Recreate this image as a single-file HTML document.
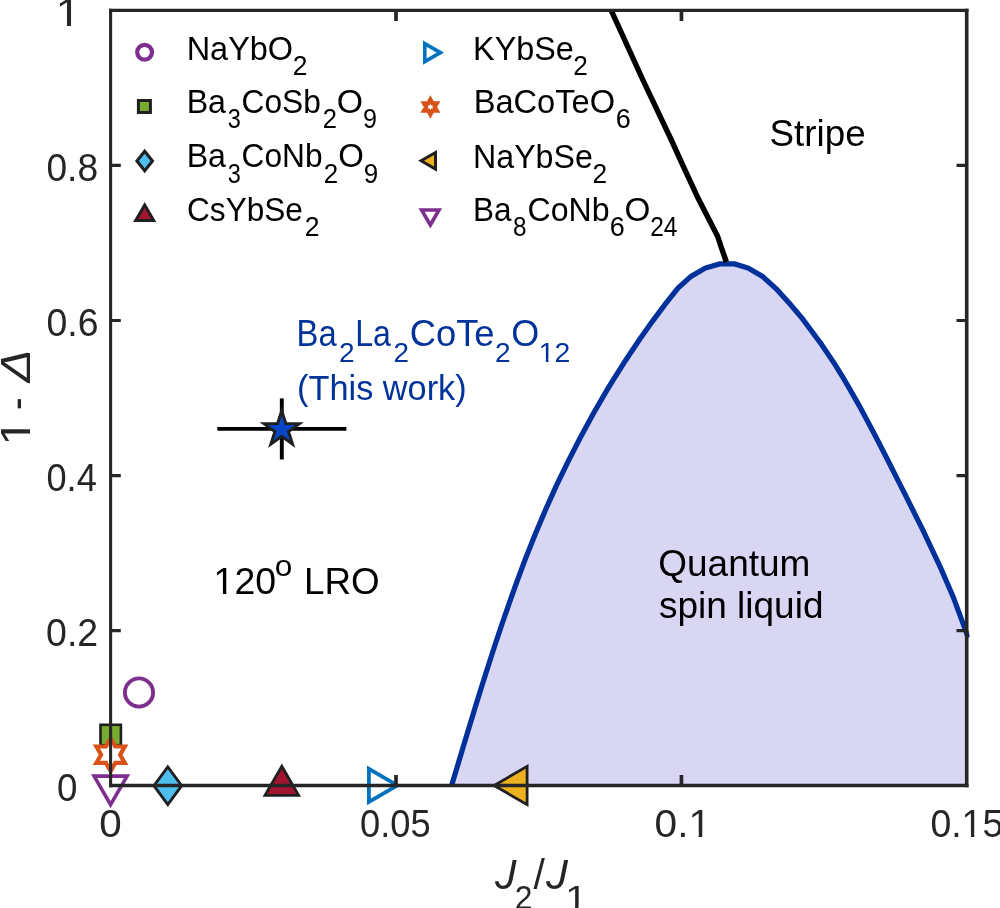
<!DOCTYPE html>
<html lang="en"><head><meta charset="utf-8"><title>Phase diagram</title>
<style>
html,body{margin:0;padding:0;background:#fff}
svg{display:block}
text{font-family:"Liberation Sans",Arial,Helvetica,sans-serif;white-space:pre}
</style></head><body>
<svg width="1000" height="908" viewBox="0 0 1000 908">
<defs><clipPath id="axclip"><rect x="110.6" y="10.4" width="858.9" height="775.1"/></clipPath></defs>
<rect width="1000" height="908" fill="#fff"/>
<g clip-path="url(#axclip)">
<polygon points="451.6,785.5 461.0,754.3 467.6,732.3 474.4,710.1 481.2,688.1 488.2,666.0 495.3,644.0 502.7,622.0 510.3,600.1 516.1,583.8 525.1,559.7 534.7,535.5 544.9,511.2 555.8,486.9 567.4,462.8 579.7,438.7 593.1,414.0 607.4,389.4 612.3,381.3 626.0,359.7 639.7,339.3 652.6,321.1 665.6,303.7 678.0,288.1 691.0,276.4 705.3,268.1 719.6,263.9 734.7,263.9 748.2,268.1 762.5,276.4 776.8,289.4 789.8,303.7 802.2,318.4 821.4,344.2 834.6,363.9 842.3,376.4 846.9,384.1 859.2,405.6 874.5,434.3 887.7,460.0 897.7,479.8 905.7,495.7 923.0,530.4 941.0,568.6 953.3,597.2 966.1,631.8 966.7,633.7 966.7,785.5" fill="#D9D6F3"/>
<polyline points="451.6,785.5 461.0,754.3 467.6,732.3 474.4,710.1 481.2,688.1 488.2,666.0 495.3,644.0 502.7,622.0 510.3,600.1 516.1,583.8 525.1,559.7 534.7,535.5 544.9,511.2 555.8,486.9 567.4,462.8 579.7,438.7 593.1,414.0 607.4,389.4 612.3,381.3 626.0,359.7 639.7,339.3 652.6,321.1 665.6,303.7 678.0,288.1 691.0,276.4 705.3,268.1 719.6,263.9 734.7,263.9 748.2,268.1 762.5,276.4 776.8,289.4 789.8,303.7 802.2,318.4 821.4,344.2 834.6,363.9 842.3,376.4 846.9,384.1 859.2,405.6 874.5,434.3 887.7,460.0 897.7,479.8 905.7,495.7 923.0,530.4 941.0,568.6 953.3,597.2 966.1,631.8 968.0,637.8" fill="none" stroke="#00309A" stroke-width="5.2" stroke-linejoin="miter"/>
<polyline points="611.2,10.4 642.9,80.0 671.1,139.5 683.2,166.1 698.5,199.1 717.7,236.5 721.2,247.1 726.4,262.0" fill="none" stroke="#000" stroke-width="5.4" stroke-linejoin="round"/>
</g>
<circle cx="139.0" cy="692.5" r="14.1" fill="none" stroke="#7E2F8E" stroke-width="3.9"/>
<rect x="100.5" y="724.8" width="20.4" height="20.4" fill="#77AC30" stroke="#1f1f1f" stroke-width="2.6"/>
<polygon points="110.6,738.3 115.3,746.5 124.8,746.5 120.1,754.7 124.8,762.9 115.3,762.9 110.6,771.1 105.9,762.9 96.4,762.9 101.1,754.7 96.4,746.5 105.9,746.5" fill="#fff" stroke="#D95319" stroke-width="4.2"/>
<polygon points="110.6,804.6 127.1,776.1 94.1,776.1" fill="none" stroke="#7E2F8E" stroke-width="3.6"/>
<polygon points="167.8,766.8 181.7,785.7 167.8,804.6 153.9,785.7" fill="#4DBEEE" stroke="#1f1f1f" stroke-width="2.8"/>
<polygon points="281.8,766.2 298.6,795.3 265.0,795.3" fill="#A2142F" stroke="#1f1f1f" stroke-width="2.8"/>
<polygon points="397.4,785.4 368.9,801.9 368.9,768.9" fill="none" stroke="#0072BD" stroke-width="3.8"/>
<polygon points="494.1,785.5 527.1,804.6 527.1,766.4" fill="#EDB120" stroke="#1f1f1f" stroke-width="2.8"/>
<line x1="217.3" x2="346.4" y1="428.9" y2="428.9" stroke="#000" stroke-width="3.9"/>
<line x1="281.8" x2="281.8" y1="398.4" y2="459.5" stroke="#000" stroke-width="3.9"/>
<polygon points="281.7,410.7 285.9,423.6 299.4,423.6 288.5,431.5 292.6,444.3 281.7,436.4 270.8,444.3 274.9,431.5 264.0,423.6 277.5,423.6" fill="#0846C8" stroke="#1f1f1f" stroke-width="2.9"/>
<circle cx="144.6" cy="52.3" r="7.4" fill="none" stroke="#7E2F8E" stroke-width="4.2"/>
<rect x="138.4" y="100.5" width="12" height="12" fill="#77AC30" stroke="#1f1f1f" stroke-width="3"/>
<polygon points="144.7,151.2 152.5,161.0 144.7,170.8 136.9,161.0" fill="#4DBEEE" stroke="#1f1f1f" stroke-width="3"/>
<polygon points="144.7,205.0 153.7,220.6 135.7,220.6" fill="#A2142F" stroke="#1f1f1f" stroke-width="3"/>
<polygon points="440.4,52.6 424.8,61.6 424.8,43.6" fill="none" stroke="#0072BD" stroke-width="3.6"/>
<polygon points="430.4,99.6 432.5,103.3 436.8,103.3 434.7,107.0 436.8,110.7 432.5,110.7 430.4,114.4 428.3,110.7 424.0,110.7 426.1,107.0 424.0,103.3 428.3,103.3" fill="#fff" stroke="#D95319" stroke-width="4.2"/>
<polygon points="421.1,160.8 435.5,169.1 435.5,152.5" fill="#EDB120" stroke="#1f1f1f" stroke-width="3"/>
<polygon points="430.3,225.0 439.0,210.0 421.6,210.0" fill="none" stroke="#7E2F8E" stroke-width="3.6"/>
<g stroke="#262626" stroke-linecap="butt"><line x1="109.05" x2="968.50" y1="10.4" y2="10.4" stroke-width="3.1"/><line x1="109.05" x2="968.50" y1="785.5" y2="785.5" stroke-width="3.5"/><line x1="110.6" x2="110.6" y1="8.85" y2="787.25" stroke-width="3.1"/><line x1="966.7" x2="966.7" y1="8.85" y2="787.25" stroke-width="3.6"/></g>
<path d="M110.6,165.4h10.2M966.7,165.4h-10.2M110.6,320.5h10.2M966.7,320.5h-10.2M110.6,475.6h10.2M966.7,475.6h-10.2M110.6,630.7h10.2M966.7,630.7h-10.2" fill="none" stroke="#262626" stroke-width="3.2"/>
<path d="M396.00,785.5v-10.5M396.00,10.4v10.5M681.45,785.5v-10.5M681.45,10.4v10.5" fill="none" stroke="#262626" stroke-width="3.7"/>
<g id="labels">
<text fill="#262626"><tspan x="55.45" y="25.60" font-size="38.6" textLength="25.44" lengthAdjust="spacingAndGlyphs">1</tspan></text>
<text fill="#262626"><tspan x="46.50" y="180.90" font-size="38.6" textLength="51.52" lengthAdjust="spacingAndGlyphs">0.8</tspan></text>
<text fill="#262626"><tspan x="46.45" y="335.70" font-size="38.6" textLength="52.04" lengthAdjust="spacingAndGlyphs">0.6</tspan></text>
<text fill="#262626"><tspan x="46.45" y="490.70" font-size="38.6" textLength="50.33" lengthAdjust="spacingAndGlyphs">0.4</tspan></text>
<text fill="#262626"><tspan x="46.05" y="645.90" font-size="38.6" textLength="52.14" lengthAdjust="spacingAndGlyphs">0.2</tspan></text>
<text fill="#262626"><tspan x="56.90" y="800.70" font-size="38.6" textLength="20.42" lengthAdjust="spacingAndGlyphs">0</tspan></text>
<text fill="#262626"><tspan x="99.20" y="836.50" font-size="38.6" textLength="22.47" lengthAdjust="spacingAndGlyphs">0</tspan></text>
<text fill="#262626"><tspan x="359.95" y="836.50" font-size="38.6" textLength="70.70" lengthAdjust="spacingAndGlyphs">0.05</tspan></text>
<text fill="#262626"><tspan x="654.60" y="836.50" font-size="38.6" textLength="56.46" lengthAdjust="spacingAndGlyphs">0.1</tspan></text>
<text fill="#262626"><tspan x="930.41" y="836.50" font-size="38.6" textLength="72.82" lengthAdjust="spacingAndGlyphs">0.15</tspan></text>
<text fill="#262626"><tspan x="495.00" y="889.00" font-size="42.5" font-style="italic" textLength="21.30" lengthAdjust="spacingAndGlyphs">J</tspan><tspan x="514.70" y="909.20" font-size="34" textLength="17.76" lengthAdjust="spacingAndGlyphs">2</tspan><tspan x="533.60" y="889.00" font-size="42.5" textLength="11.36" lengthAdjust="spacingAndGlyphs">/</tspan><tspan x="546.00" y="889.00" font-size="42.5" font-style="italic" textLength="21.84" lengthAdjust="spacingAndGlyphs">J</tspan><tspan x="565.15" y="909.20" font-size="34" textLength="21.91" lengthAdjust="spacingAndGlyphs">1</tspan></text>
<text fill="#262626" transform="rotate(-90)"><tspan x="-445.80" y="30.00" font-size="42.5" textLength="26.99" lengthAdjust="spacingAndGlyphs">1</tspan><tspan x="-420.45" y="31.10" font-size="42.5" textLength="33.48" lengthAdjust="spacingAndGlyphs"> - </tspan><tspan x="-382.55" y="30.00" font-size="42.5" font-style="italic" textLength="33.30" lengthAdjust="spacingAndGlyphs">Δ</tspan></text>
<text fill="#000"><tspan x="186.70" y="59.90" font-size="33.0" textLength="106.40" lengthAdjust="spacingAndGlyphs">NaYbO</tspan><tspan x="292.85" y="75.20" font-size="27" textLength="14.72" lengthAdjust="spacingAndGlyphs">2</tspan></text>
<text fill="#000"><tspan x="186.70" y="113.10" font-size="33.0" textLength="39.31" lengthAdjust="spacingAndGlyphs">Ba</tspan><tspan x="227.85" y="128.40" font-size="27" textLength="13.09" lengthAdjust="spacingAndGlyphs">3</tspan><tspan x="241.60" y="113.10" font-size="33.0" textLength="79.29" lengthAdjust="spacingAndGlyphs">CoSb</tspan><tspan x="322.70" y="128.40" font-size="27" textLength="14.23" lengthAdjust="spacingAndGlyphs">2</tspan><tspan x="336.70" y="113.10" font-size="33.0" textLength="26.24" lengthAdjust="spacingAndGlyphs">O</tspan><tspan x="363.10" y="128.40" font-size="27" textLength="14.01" lengthAdjust="spacingAndGlyphs">9</tspan></text>
<text fill="#000"><tspan x="186.70" y="167.20" font-size="33.0" textLength="39.31" lengthAdjust="spacingAndGlyphs">Ba</tspan><tspan x="227.85" y="182.50" font-size="27" textLength="13.09" lengthAdjust="spacingAndGlyphs">3</tspan><tspan x="241.60" y="167.20" font-size="33.0" textLength="80.96" lengthAdjust="spacingAndGlyphs">CoNb</tspan><tspan x="323.75" y="182.50" font-size="27" textLength="14.44" lengthAdjust="spacingAndGlyphs">2</tspan><tspan x="338.15" y="167.20" font-size="33.0" textLength="25.62" lengthAdjust="spacingAndGlyphs">O</tspan><tspan x="363.75" y="182.50" font-size="27" textLength="14.49" lengthAdjust="spacingAndGlyphs">9</tspan></text>
<text fill="#000"><tspan x="187.05" y="221.00" font-size="33.0" textLength="115.88" lengthAdjust="spacingAndGlyphs">CsYbSe</tspan><tspan x="304.85" y="236.30" font-size="27" textLength="14.79" lengthAdjust="spacingAndGlyphs">2</tspan></text>
<text fill="#000"><tspan x="473.05" y="59.90" font-size="33.0" textLength="100.77" lengthAdjust="spacingAndGlyphs">KYbSe</tspan><tspan x="573.35" y="75.20" font-size="27" textLength="14.60" lengthAdjust="spacingAndGlyphs">2</tspan></text>
<text fill="#000"><tspan x="473.65" y="113.10" font-size="33.0" textLength="141.43" lengthAdjust="spacingAndGlyphs">BaCoTeO</tspan><tspan x="615.85" y="128.40" font-size="27" textLength="15.03" lengthAdjust="spacingAndGlyphs">6</tspan></text>
<text fill="#000"><tspan x="473.05" y="167.50" font-size="33.0" textLength="119.77" lengthAdjust="spacingAndGlyphs">NaYbSe</tspan><tspan x="592.45" y="182.80" font-size="27" textLength="14.60" lengthAdjust="spacingAndGlyphs">2</tspan></text>
<text fill="#000"><tspan x="473.05" y="221.00" font-size="33.0" textLength="38.51" lengthAdjust="spacingAndGlyphs">Ba</tspan><tspan x="513.00" y="236.30" font-size="27" textLength="13.53" lengthAdjust="spacingAndGlyphs">8</tspan><tspan x="527.55" y="221.00" font-size="33.0" textLength="82.04" lengthAdjust="spacingAndGlyphs">CoNb</tspan><tspan x="609.85" y="236.30" font-size="27" textLength="15.03" lengthAdjust="spacingAndGlyphs">6</tspan><tspan x="624.55" y="221.00" font-size="33.0" textLength="25.84" lengthAdjust="spacingAndGlyphs">O</tspan><tspan x="650.15" y="236.30" font-size="27" textLength="27.29" lengthAdjust="spacingAndGlyphs">24</tspan></text>
<text fill="#00339A"><tspan x="296.60" y="345.80" font-size="36" textLength="40.08" lengthAdjust="spacingAndGlyphs">Ba</tspan><tspan x="339.00" y="361.50" font-size="28.4" textLength="15.61" lengthAdjust="spacingAndGlyphs">2</tspan><tspan x="355.25" y="345.80" font-size="36" textLength="35.72" lengthAdjust="spacingAndGlyphs">La</tspan><tspan x="393.50" y="361.50" font-size="28.4" textLength="15.49" lengthAdjust="spacingAndGlyphs">2</tspan><tspan x="409.75" y="345.80" font-size="36" textLength="84.83" lengthAdjust="spacingAndGlyphs">CoTe</tspan><tspan x="495.00" y="361.50" font-size="28.4" textLength="15.61" lengthAdjust="spacingAndGlyphs">2</tspan><tspan x="511.25" y="345.80" font-size="36" textLength="28.02" lengthAdjust="spacingAndGlyphs">O</tspan><tspan x="538.75" y="361.50" font-size="28.4" textLength="31.59" lengthAdjust="spacingAndGlyphs">12</tspan></text>
<text fill="#00339A"><tspan x="297.10" y="400.10" font-size="35.5" textLength="169.58" lengthAdjust="spacingAndGlyphs">(This work)</tspan></text>
<text fill="#000"><tspan x="213.55" y="593.90" font-size="37.5" textLength="62.52" lengthAdjust="spacingAndGlyphs">120</tspan><tspan x="274.75" y="576.00" font-size="30" textLength="17.57" lengthAdjust="spacingAndGlyphs">o</tspan><tspan x="293.70" y="594.00" font-size="37.5" textLength="85.89" lengthAdjust="spacingAndGlyphs"> LRO</tspan></text>
<text fill="#000"><tspan x="769.60" y="145.70" font-size="37.5" textLength="96.05" lengthAdjust="spacingAndGlyphs">Stripe</tspan></text>
<text fill="#000"><tspan x="658.25" y="575.80" font-size="37.5" textLength="152.19" lengthAdjust="spacingAndGlyphs">Quantum</tspan></text>
<text fill="#000"><tspan x="659.00" y="618.40" font-size="37.5" textLength="164.48" lengthAdjust="spacingAndGlyphs">spin liquid</tspan></text>
</g>
<g id="footmask">
<g fill="#fff"><rect x="56.82" y="22.00" width="10.13" height="4.40"/><rect x="70.99" y="22.00" width="10.07" height="4.40"/></g>
<g fill="#fff"><rect x="689.68" y="833.00" width="9.00" height="4.30"/><rect x="702.27" y="833.00" width="8.95" height="4.30"/></g>
<g fill="#fff"><rect x="962.73" y="833.00" width="8.29" height="4.30"/><rect x="974.32" y="833.00" width="8.24" height="4.30"/></g>
<g fill="#fff"><polygon points="511.84,864.10 512.73,859.43 504.98,859.43 504.98,864.10"/><polygon points="563.27,864.10 564.18,859.43 556.24,859.43 556.24,864.10"/><rect x="566.33" y="906.00" width="8.72" height="4.00"/><rect x="578.53" y="906.00" width="8.67" height="4.00"/></g>
<g fill="#fff" transform="rotate(-90)"><rect x="-444.34" y="26.00" width="10.75" height="4.80"/><rect x="-429.31" y="26.00" width="10.68" height="4.80"/></g>
<g fill="#fff"><rect x="539.60" y="359.00" width="6.29" height="3.30"/><rect x="548.40" y="359.00" width="6.25" height="3.30"/></g>
<g fill="#fff"><rect x="214.67" y="591.00" width="8.30" height="3.70"/><rect x="226.28" y="591.00" width="8.25" height="3.70"/></g>
</g>
</svg>
</body></html>
